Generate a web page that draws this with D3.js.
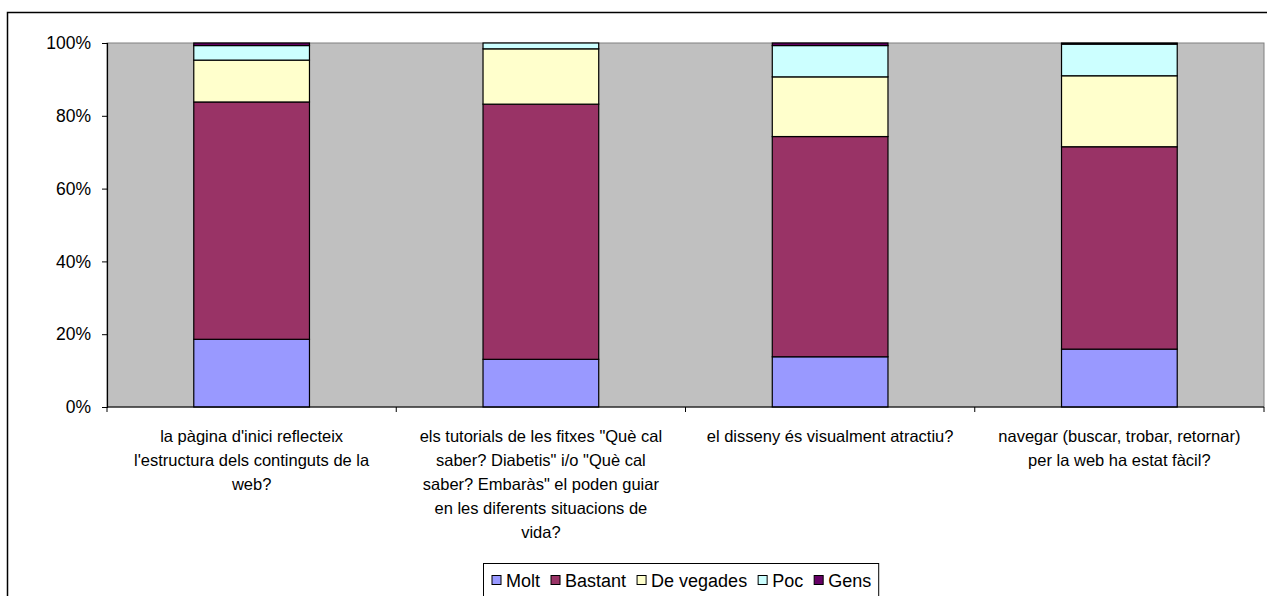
<!DOCTYPE html>
<html>
<head>
<meta charset="utf-8">
<script src="https://cdn.jsdelivr.net/npm/d3@7"></script>
<style>
  body { margin: 0; background: #fff; }
  text { font-family: "Liberation Sans", Arial, sans-serif; fill: #000; }
</style>
</head>
<body>
<svg width="1267" height="596"></svg>
<script>
var svg = d3.select('svg');

// categories, wrapped as in the original
var categories = [
    ["la pàgina d'inici reflecteix", "l'estructura dels continguts de la", "web?"],
    ["els tutorials de les fitxes \"Què cal", "saber? Diabetis\" i/o \"Què cal", "saber? Embaràs\" el poden guiar", "en les diferents situacions de", "vida?"],
    ["el disseny és visualment atractiu?"],
    ["navegar (buscar, trobar, retornar)", "per la web ha estat fàcil?"]
];
var seriesNames = ["Molt", "Bastant", "De vegades", "Poc", "Gens"];
var seriesColors = ["#9999FF", "#993366", "#FFFFCC", "#CCFFFF", "#660066"];

// percentages per series, one per category
var molt      = [18.6, 13.1, 13.8, 15.9];
var bastant   = [65.2, 70.1, 60.5, 55.6];
var deVegades = [11.5, 15.2, 16.4, 19.5];
var poc       = [4.0, 1.6, 8.6, 8.7];
var gens      = [0.7, 0.0, 0.7, 0.3];

var yTicks = [0, 0.2, 0.4, 0.6, 0.8, 1.0];

var values = [molt, bastant, deVegades, poc, gens];
var rows = categories.map(function(c, i) {
    var r = {idx: i};
    seriesNames.forEach(function(s, j) { r[s] = values[j][i]; });
    return r;
});

var margin = {left: 107, top: 43, right: 1264, bottom: 407};

// outer chart frame
svg.append("rect")
    .attr("x", 7.5).attr("y", 12.5)
    .attr("width", 1300).attr("height", 700)
    .attr("fill", "white")
    .attr("stroke", "black")
    .attr("stroke-width", 1.5);

var x = d3.scaleBand()
    .domain(d3.range(categories.length))
    .range([margin.left, margin.right])
    .paddingInner(0)
    .paddingOuter(0);

var barW = x.bandwidth() * 0.4;

var y = d3.scaleLinear()
    .domain([0, 1])
    .range([margin.bottom, margin.top]);

// plot area
svg.append("rect")
    .attr("x", margin.left).attr("y", margin.top)
    .attr("width", margin.right - margin.left)
    .attr("height", margin.bottom - margin.top)
    .attr("fill", "#C0C0C0")
    .attr("stroke", "#808080")
    .attr("stroke-width", 1);

var stack = d3.stack().keys(seriesNames).offset(d3.stackOffsetExpand);
var layers = stack(rows);

svg.append("g")
    .selectAll("g")
    .data(layers)
    .enter()
    .append("g")
    .attr("fill", function(d, i) { return seriesColors[i]; })
    .selectAll("rect")
    .data(function(d) { return d; })
    .enter()
    .append("rect")
    .attr("x", function(d) { return x(d.data.idx) + (x.bandwidth() - barW) / 2; })
    .attr("width", barW)
    .attr("y", function(d) { return y(d[1]); })
    .attr("height", function(d) { return Math.max(0, y(d[0]) - y(d[1])); })
    .attr("stroke", "black")
    .attr("stroke-width", 1.2)
    .style("display", function(d) { return d[1] - d[0] > 0 ? null : "none"; });

// y axis
var yAxis = svg.append("g")
    .attr("transform", "translate(" + margin.left + ",0)")
    .call(d3.axisLeft(y).tickValues(yTicks).tickFormat(d3.format(".0%")).tickSize(5).tickPadding(11));
yAxis.select(".domain").attr("stroke", "black").attr("stroke-width", 1.2);
yAxis.selectAll(".tick line").attr("stroke", "black");
yAxis.selectAll("text")
    .style("font-family", "'Liberation Sans', Arial, sans-serif")
    .style("font-size", "17.5px")
    .attr("fill", "black");

// x axis: line and ticks on category boundaries
var xb = svg.append("g");
xb.append("line")
    .attr("x1", margin.left).attr("x2", margin.right)
    .attr("y1", margin.bottom).attr("y2", margin.bottom)
    .attr("stroke", "black").attr("stroke-width", 1.2);
xb.selectAll("line.tk")
    .data(d3.range(categories.length + 1))
    .enter()
    .append("line")
    .attr("class", "tk")
    .attr("x1", function(d) { return margin.left + d * x.step(); })
    .attr("x2", function(d) { return margin.left + d * x.step(); })
    .attr("y1", margin.bottom).attr("y2", margin.bottom + 5)
    .attr("stroke", "black");

// category labels
var labels = svg.append("g")
    .selectAll("text")
    .data(categories)
    .enter()
    .append("text")
    .attr("text-anchor", "middle")
    .style("font-size", "16.5px");
labels.selectAll("tspan")
    .data(function(d, i) { return d.map(function(t) { return {t: t, i: i}; }); })
    .enter()
    .append("tspan")
    .attr("x", function(d) { return x(d.i) + x.bandwidth() / 2; })
    .attr("y", function(d, j) { return 442 + j * 24; })
    .text(function(d) { return d.t; });

// legend
var legend = svg.append("g");
var legendBox = legend.append("rect")
    .attr("y", 563.5).attr("height", 60)
    .attr("fill", "white").attr("stroke", "black").attr("stroke-width", 1);
var lx = 0;
var items = legend.append("g");
seriesNames.forEach(function(s, i) {
    items.append("rect")
        .attr("x", lx).attr("y", 575.5)
        .attr("width", 9).attr("height", 9)
        .attr("fill", seriesColors[i])
        .attr("stroke", "black");
    var t = items.append("text")
        .attr("x", lx + 14).attr("y", 586.5)
        .style("font-size", "18px")
        .text(s);
    lx += 14 + t.node().getComputedTextLength() + 11;
});
var totalW = lx - 11;
var startX = 492;
items.attr("transform", "translate(" + startX + ",0)");
legendBox.attr("x", startX - 8.5).attr("width", totalW + 16);
</script>
</body>
</html>
